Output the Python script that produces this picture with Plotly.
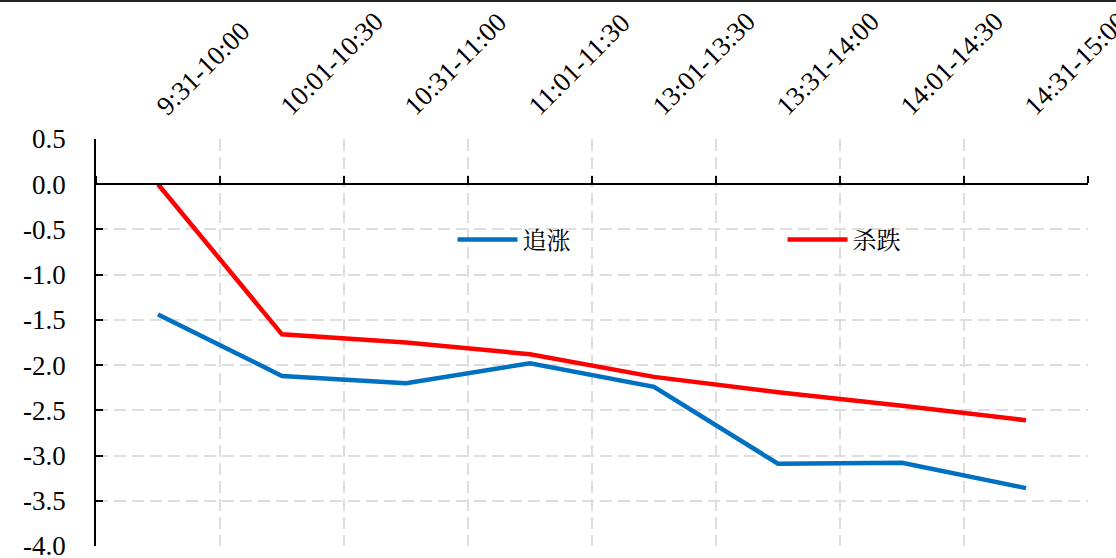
import plotly.graph_objects as go

categories = ["9:31-10:00", "10:01-10:30", "10:31-11:00", "11:01-11:30",
              "13:01-13:30", "13:31-14:00", "14:01-14:30", "14:31-15:00"]
chase_up = [-1.44, -2.12, -2.20, -1.98, -2.24, -3.09, -3.08, -3.36]
kill_down = [0.0, -1.66, -1.75, -1.88, -2.13, -2.30, -2.45, -2.61]
y_ticks = [0.5, 0.0, -0.5, -1.0, -1.5, -2.0, -2.5, -3.0, -3.5, -4.0]
y_tick_labels = ["0.5", "0.0", "-0.5", "-1.0", "-1.5", "-2.0", "-2.5", "-3.0", "-3.5", "-4.0"]

W, H = 1116, 558
ML, MR, MT, MB = 96, 28, 139, 12
plot_h = H - MT - MB
plot_w = W - ML - MR

font_fam = "Liberation Serif, Times New Roman, Noto Sans CJK SC, serif"
grid_col = "#dedede"

fig = go.Figure()
fig.add_trace(go.Scatter(x=categories, y=chase_up, mode="lines", name="追涨",
                         line=dict(color="#0070C0", width=4.5)))
fig.add_trace(go.Scatter(x=categories, y=kill_down, mode="lines", name="杀跌",
                         line=dict(color="#FF0000", width=4.5)))
# helper trace for the zero-line axis
fig.add_trace(go.Scatter(x=categories, y=[None] * len(categories), xaxis="x2",
                         showlegend=False, hoverinfo="skip", mode="lines"))

ymin, ymax = -4.0, 0.5
zero_pos = (0 - ymin) / (ymax - ymin)

fig.update_layout(
    width=W, height=H,
    margin=dict(l=ML, r=MR, t=MT, b=MB, autoexpand=False),
    paper_bgcolor="white", plot_bgcolor="white",
    font=dict(family=font_fam, size=27, color="black"),
    xaxis=dict(type="category", categoryorder="array", categoryarray=categories,
               range=[-0.5, len(categories) - 0.5], side="top", tickangle=-45,
               showline=False, ticks="", tickson="boundaries",
               showgrid=True, gridcolor=grid_col, griddash="12px,6px", gridwidth=1.5,
               ticklabelstandoff=12, zeroline=False, automargin=False,
               ticklabeloverflow="allow",
               tickfont=dict(family=font_fam, size=27)),
    xaxis2=dict(type="category", categoryorder="array", categoryarray=categories,
                range=[-0.5, len(categories) - 0.5], overlaying="x", anchor="free",
                position=zero_pos, side="top", showline=True, linecolor="black",
                linewidth=1.5, ticks="outside", ticklen=7, tickcolor="black",
                tickwidth=1.5, tickson="boundaries", showticklabels=False,
                showgrid=False, zeroline=False, automargin=False),
    yaxis=dict(range=[ymin, ymax], tickvals=y_ticks, ticktext=y_tick_labels,
               showline=True, linecolor="black", linewidth=1.5,
               ticks="inside", ticklen=7, tickcolor="black", tickwidth=1.5,
               showgrid=True, gridcolor=grid_col, griddash="12px,6px", gridwidth=1.5,
               zeroline=False, ticklabelstandoff=23, automargin=False,
               ticklabeloverflow="allow",
               tickfont=dict(family=font_fam, size=27)),
    legend=dict(orientation="h", x=(452.5 - ML) / plot_w, xanchor="left",
                y=1 - (240 - MT) / plot_h, yanchor="middle",
                itemwidth=60, entrywidth=255,
                font=dict(family="Noto Serif CJK SC, Noto Sans CJK SC, serif", size=24),
                bgcolor="rgba(0,0,0,0)"),
    shapes=[dict(type="line", xref="paper", yref="paper",
                 x0=-ML / plot_w, x1=1 + MR / plot_w,
                 y0=1 + (MT - 1) / plot_h, y1=1 + (MT - 1) / plot_h,
                 line=dict(color="#222222", width=2))],
    showlegend=True,
)

fig.write_html("out.html", config={"displayModeBar": False},
               post_script="document.body.style.margin='0';")
